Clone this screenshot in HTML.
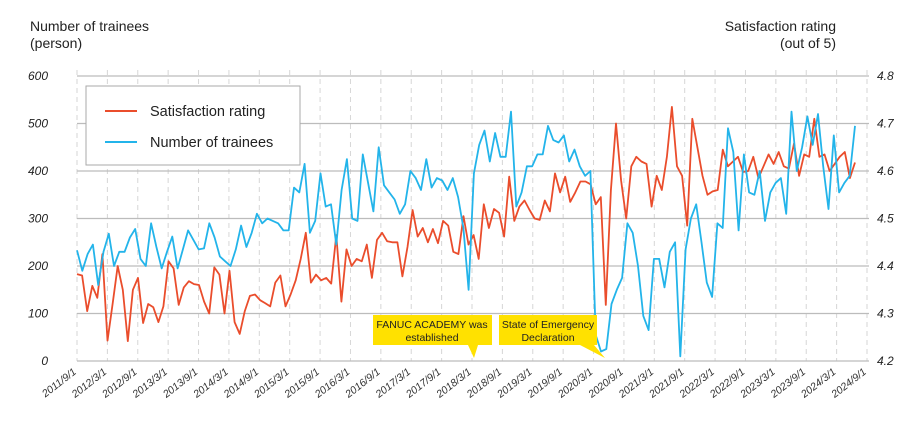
<!DOCTYPE html>
<html><head><meta charset="utf-8"><style>
html,body{margin:0;padding:0;background:#fff;}
body{width:920px;height:423px;overflow:hidden;font-family:"Liberation Sans",sans-serif;}
</style></head><body>
<svg id="c" width="920" height="423" xmlns="http://www.w3.org/2000/svg" font-family="Liberation Sans, sans-serif">
<text x="30" y="31" font-size="14" fill="#222">Number of trainees</text>
<text x="30" y="48" font-size="14" fill="#222">(person)</text>
<text x="836" y="31" font-size="14" fill="#222" text-anchor="end">Satisfaction rating</text>
<text x="836" y="48" font-size="14" fill="#222" text-anchor="end">(out of 5)</text>
<g id="grid"></g>
<g id="series"></g>
<rect x="86" y="86" width="214" height="79" fill="#fff" stroke="#aaa" stroke-width="1"/>
<line x1="105" y1="111" x2="137" y2="111" stroke="#ea4d2c" stroke-width="2"/>
<text x="150" y="116" font-size="14.5" fill="#222">Satisfaction rating</text>
<line x1="105" y1="142" x2="137" y2="142" stroke="#23b4ea" stroke-width="2"/>
<text x="150" y="147" font-size="14.5" fill="#222">Number of trainees</text>
<rect x="373" y="315" width="119" height="30" fill="#ffe100"/>
<polygon points="468,345 478,345 474,358" fill="#ffe100"/>
<text x="432" y="328" font-size="10.5" fill="#222" text-anchor="middle">FANUC ACADEMY was</text>
<text x="432" y="341" font-size="10.5" fill="#222" text-anchor="middle">established</text>
<rect x="499" y="315" width="98" height="30" fill="#ffe100"/>
<polygon points="580,345 594,345 605,358" fill="#ffe100"/>
<text x="548" y="328" font-size="10.5" fill="#222" text-anchor="middle">State of Emergency</text>
<text x="548" y="341" font-size="10.5" fill="#222" text-anchor="middle">Declaration</text>
</svg>
<script>
var NS="http://www.w3.org/2000/svg";
function el(t,a,p,txt){var e=document.createElementNS(NS,t);for(var k in a)e.setAttribute(k,a[k]);if(txt!==undefined)e.textContent=txt;p.appendChild(e);return e;}
var g=document.getElementById("grid"),s=document.getElementById("series");
var x0=77,x1=867,y0=361,sc=0.475;
var ticks=[];for(var y=2011;y<=2024;y++){ticks.push(y+"/3/1");ticks.push(y+"/9/1");}
ticks=ticks.slice(1);
for(var i=0;i<ticks.length;i++){var x=x0+i*(x1-x0)/26;
 el("line",{x1:x,y1:70,x2:x,y2:y0,stroke:"#d6d6d6","stroke-dasharray":"5,4"},g);
 el("text",{x:x,y:y0+12,"font-size":"10.5","font-style":"italic",fill:"#333","text-anchor":"end",transform:"rotate(-38 "+x+" "+(y0+12)+")"},g,ticks[i]);}
var rl=["4.2","4.3","4.4","4.5","4.6","4.7","4.8"];
for(var v=0;v<=600;v+=100){var y=y0-v*sc;
 el("line",{x1:x0,y1:y,x2:x1+2,y2:y,stroke:"#bcbcbc","stroke-width":"1.2"},g);
 el("text",{x:48,y:y+4,"font-size":"12","font-style":"italic",fill:"#222","text-anchor":"end"},g,""+v);
 el("text",{x:877,y:y+4,"font-size":"12","font-style":"italic",fill:"#222"},g,rl[v/100]);}
var red=[183,180,105,158,133,225,43,120,200,150,42,150,175,80,120,113,82,115,210,195,118,155,168,162,160,125,100,197,182,100,190,82,57,105,137,140,128,122,115,165,180,115,140,170,215,270,165,182,170,175,163,265,125,235,200,215,210,245,175,255,270,252,250,250,178,240,318,262,280,250,278,248,295,285,230,225,305,245,265,215,330,280,320,312,262,388,295,325,338,318,300,297,338,315,395,355,388,335,355,378,378,372,330,345,118,360,500,380,300,410,430,420,415,325,390,360,430,535,410,390,285,510,450,390,350,357,360,445,410,420,430,398,400,430,385,410,435,415,440,410,405,458,390,435,430,510,430,435,400,415,430,440,385,418];
var blue=[233,190,225,245,160,230,268,200,230,230,260,278,215,200,290,240,195,230,262,195,235,275,255,235,237,290,260,220,210,200,235,285,240,270,310,290,300,295,290,275,275,365,355,415,270,295,395,325,330,245,360,425,300,295,435,375,315,450,370,355,340,310,330,400,385,360,425,365,385,380,360,385,345,280,150,395,455,485,420,480,430,430,525,325,355,410,410,435,435,495,465,460,475,420,445,410,390,400,55,20,25,120,150,175,290,270,200,95,65,215,215,155,230,250,10,235,300,330,250,165,135,290,280,490,440,275,435,355,350,400,295,355,375,385,310,525,400,450,515,455,520,410,320,475,355,375,390,495];
function poly(d,c){var xe=855,p=[];for(var i=0;i<d.length;i++)p.push((x0+i*(xe-x0)/(d.length-1)).toFixed(1)+","+(y0-d[i]*sc).toFixed(1));
 el("polyline",{points:p.join(" "),fill:"none",stroke:c,"stroke-width":"1.8","stroke-linejoin":"round"},s);}
poly(red,"#ea4d2c");poly(blue,"#23b4ea");
</script>
</body></html>
